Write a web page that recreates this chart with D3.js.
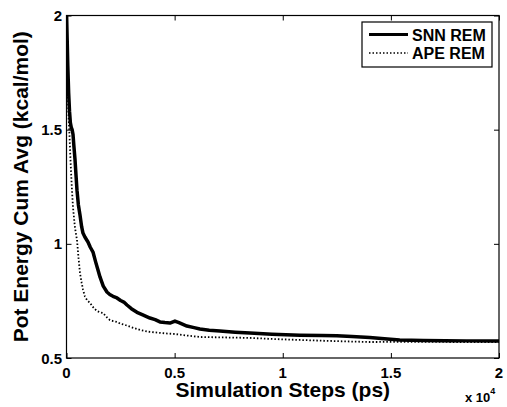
<!DOCTYPE html>
<html>
<head>
<meta charset="utf-8">
<script src="https://cdn.jsdelivr.net/npm/d3@7"></script>
<style>
  body { margin: 0; background: #fff; }
  text { font-family: "Liberation Sans", Arial, Helvetica, sans-serif; font-weight: bold; }
</style>
</head>
<body>
<div id="chart"></div>
<script>
// SNN REM (solid)
var snnSteps = [0, 30, 60, 100, 140, 180, 220, 260, 300, 340, 393, 440, 485, 550, 624, 700, 762, 850, 993, 1100,
  1225, 1350, 1456, 1548, 1700, 1871, 2000, 2150, 2334, 2500, 2650, 2796, 3000, 3258, 3500, 3858, 4100, 4321,
  4550, 4783, 5014, 5200, 5568, 5900, 6169, 6600, 7093, 7800, 8479, 9500, 10790, 11800, 12500, 13200, 14025,
  14700, 15410, 16500, 17500, 18500, 20000];
var snnVals = [2.02, 1.90, 1.78, 1.66, 1.58, 1.53, 1.51, 1.50, 1.48, 1.43, 1.37, 1.30, 1.235, 1.17, 1.126, 1.075,
  1.047, 1.03, 1.008, 0.985, 0.964, 0.92, 0.885, 0.855, 0.815, 0.789, 0.778, 0.770, 0.763, 0.752, 0.745, 0.732,
  0.716, 0.700, 0.690, 0.675, 0.668, 0.658, 0.655, 0.653, 0.662, 0.655, 0.640, 0.633, 0.627, 0.622, 0.618, 0.613,
  0.609, 0.604, 0.600, 0.598, 0.597, 0.594, 0.590, 0.584, 0.579, 0.577, 0.576, 0.575, 0.574];

// APE REM (dotted)
var apeSteps = [0, 40, 70, 100, 139, 170, 208, 250, 300, 350, 393, 485, 554, 624, 700, 762, 850, 947, 1086, 1250,
  1409, 1550, 1687, 1850, 2010, 2150, 2334, 2500, 2703, 3000, 3396, 3800, 4321, 4700, 5014, 5600, 6169, 7300,
  8479, 9600, 10790, 12400, 14025, 16000, 18000, 20000];
var apeVals = [1.95, 1.75, 1.63, 1.55, 1.477, 1.40, 1.32, 1.24, 1.16, 1.11, 1.07, 1.017, 0.94, 0.872, 0.83, 0.80,
  0.77, 0.754, 0.741, 0.72, 0.706, 0.70, 0.697, 0.68, 0.666, 0.662, 0.658, 0.650, 0.645, 0.635, 0.623, 0.615,
  0.610, 0.607, 0.605, 0.598, 0.592, 0.590, 0.588, 0.583, 0.579, 0.574, 0.570, 0.571, 0.570, 0.570];

var xTicks = [0, 5000, 10000, 15000, 20000];
var xTickLabels = ["0", "0.5", "1", "1.5", "2"];
var yTicks = [0.5, 1, 1.5, 2];
var yTickLabels = ["0.5", "1", "1.5", "2"];
var seriesNames = ["SNN REM", "APE REM"];

var W = 507, H = 407;
var margin = { top: 15.5, right: 8, bottom: 49, left: 66.5 },
    width = W - margin.left - margin.right,
    height = H - margin.top - margin.bottom;

var svg = d3.select("#chart")
    .append("svg")
    .attr("width", W)
    .attr("height", H)
    .append("g")
    .attr("transform", "translate(" + margin.left + "," + margin.top + ")");

var x = d3.scaleLinear().domain([0, 20000]).range([0, width]);
var y = d3.scaleLinear().domain([0.5, 2]).range([height, 0]);

svg.append("defs").append("clipPath").attr("id", "clip")
    .append("rect").attr("width", width).attr("height", height);

var line = d3.line()
    .x(function (d) { return x(d[0]) })
    .y(function (d) { return y(d[1]) });

var ape = apeSteps.map(function (s, i) { return [s, apeVals[i]] });
var snn = snnSteps.map(function (s, i) { return [s, snnVals[i]] });

svg.append("path")
    .datum(ape)
    .attr("clip-path", "url(#clip)")
    .attr("fill", "none")
    .attr("stroke", "#000")
    .attr("stroke-width", 1.8)
    .attr("stroke-dasharray", "1.5,2")
    .attr("d", line);

svg.append("path")
    .datum(snn)
    .attr("clip-path", "url(#clip)")
    .attr("fill", "none")
    .attr("stroke", "#000")
    .attr("stroke-width", 3.5)
    .attr("stroke-linejoin", "round")
    .attr("d", line);

// ticks inside on all four sides
function tickAxis(axis, tr) {
    var g = svg.append("g").attr("transform", tr).call(axis);
    g.selectAll("text").remove();
    g.select(".domain").remove();
    g.selectAll("line").attr("stroke", "#000").attr("stroke-width", 1);
}
tickAxis(d3.axisBottom(x).tickValues(xTicks).tickSize(-5), "translate(0," + height + ")");
tickAxis(d3.axisTop(x).tickValues(xTicks).tickSize(-5), "translate(0,0)");
tickAxis(d3.axisLeft(y).tickValues(yTicks).tickSize(-5), "translate(0,0)");
tickAxis(d3.axisRight(y).tickValues(yTicks).tickSize(-5), "translate(" + width + ",0)");

svg.append("rect")
    .attr("width", width).attr("height", height)
    .attr("fill", "none").attr("stroke", "#000").attr("stroke-width", 1.2);

// tick labels
svg.selectAll(".xl").data(xTicks).enter().append("text")
    .attr("x", function (d) { return x(d) })
    .attr("y", height + 19.5)
    .attr("text-anchor", "middle")
    .style("font-size", "15px")
    .text(function (d, i) { return xTickLabels[i] });

svg.selectAll(".yl").data(yTicks).enter().append("text")
    .attr("x", -4.5)
    .attr("y", function (d) { return y(d) + 5.5 })
    .attr("text-anchor", "end")
    .style("font-size", "15px")
    .text(function (d, i) { return yTickLabels[i] });

// exponent
var ex = svg.append("text")
    .attr("x", width - 34)
    .attr("y", height + 44)
    .style("font-size", "13px");
ex.append("tspan").text("x 10");
ex.append("tspan").attr("dy", -8).style("font-size", "9px").text("4");

// axis titles
svg.append("text")
    .attr("x", width / 2)
    .attr("y", height + 39)
    .attr("text-anchor", "middle")
    .style("font-size", "21px")
    .text("Simulation Steps (ps)");

svg.append("text")
    .attr("transform", "translate(" + (28 - margin.left) + "," + (height / 2) + ") rotate(-90)")
    .attr("text-anchor", "middle")
    .style("font-size", "21px")
    .text("Pot Energy Cum Avg (kcal/mol)");

// legend
var lg = svg.append("g").attr("transform", "translate(" + (362 - margin.left) + "," + (22 - margin.top) + ")");
lg.append("rect").attr("width", 130).attr("height", 45)
    .attr("fill", "#fff").attr("stroke", "#000").attr("stroke-width", 1.2);
seriesNames.forEach(function (name, i) {
    var yy = 12.5 + i * 18.5;
    lg.append("line")
        .attr("x1", 7).attr("x2", 46).attr("y1", yy).attr("y2", yy)
        .attr("stroke", "#000")
        .attr("stroke-width", i == 0 ? 3 : 1.6)
        .attr("stroke-dasharray", i == 0 ? null : "1.5,2");
    lg.append("text")
        .attr("x", 50).attr("y", yy + 6)
        .style("font-size", "16px")
        .text(name);
});
</script>
</body>
</html>
